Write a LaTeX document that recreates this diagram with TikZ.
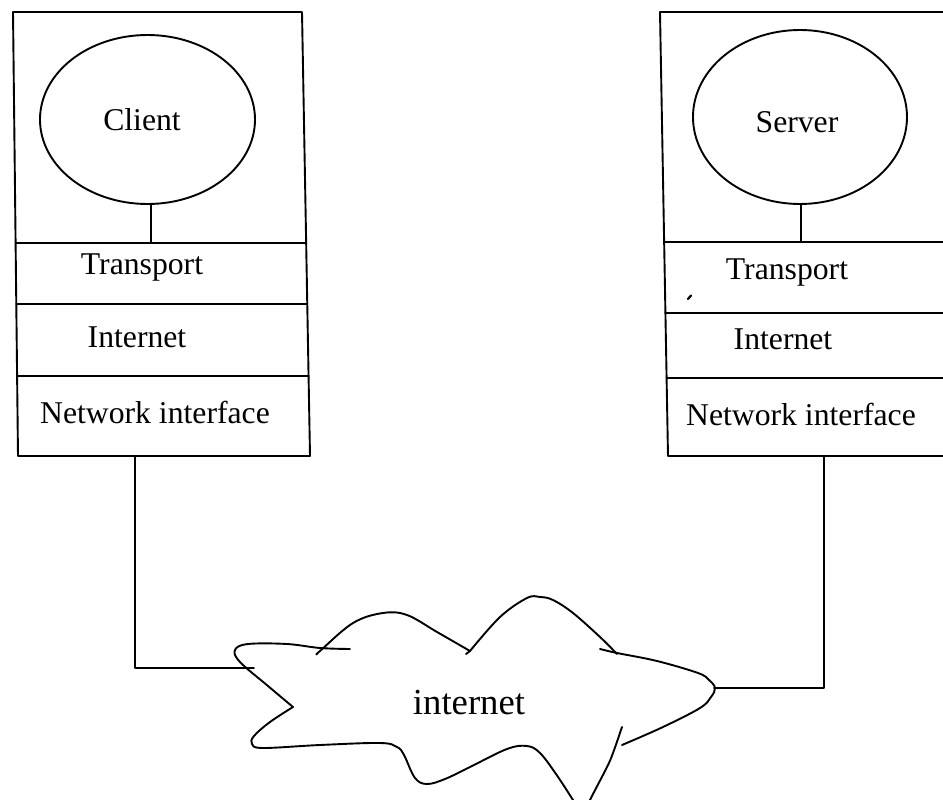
\documentclass[tikz,border=0pt]{standalone}
\usepackage{fontspec}
\setmainfont{Liberation Serif}
\usetikzlibrary{shapes.geometric}
\begin{document}
\begin{tikzpicture}[x=1pt,y=-1pt,
  line width=1.9pt, line join=round, line cap=round,
  lbl/.style={anchor=base, inner sep=0pt, font=\fontsize{31.7}{38}\selectfont},
  app/.style={draw, ellipse, inner sep=0pt, line width=1.9pt},
  stroke/.style={line width=1.9pt},
  cloudseg/.style={smooth, tension=0.6}]
\useasboundingbox (0,0) rectangle (943,800);
\clip (0,0) rectangle (943,800);

% ---------- client host ----------
\coordinate (lTL) at (13,12);
\coordinate (lTR) at (302,12);
\coordinate (lBR) at (310,456);
\coordinate (lBL) at (18,456);
\draw[stroke] (lTL) -- (lTR) -- (lBR) -- (lBL) -- cycle;
\draw[stroke] (15.6,243) -- (306.2,243);
\draw[stroke] (16.3,304) -- (307.3,304);
\draw[stroke] (17.1,376) -- (308.6,376);

\node[app, minimum width=215pt, minimum height=169pt] (cliE) at (147.5,119.5) {};
\node[lbl] (cliN) at (142,131) {Client};
\coordinate (cliT) at (151,243);
\draw[stroke] (cliE.south -| cliT) -- (cliT);
\node[lbl] (cliTr) at (142,274) {Transport};
\node[lbl] (cliIn) at (137,347) {Internet};
\node[lbl] (cliNi) at (155,423) {Network interface};

% ---------- server host ----------
\coordinate (rTL) at (660,12);
\coordinate (rTR) at (960,12);
\coordinate (rBL) at (668,456);
\coordinate (rBR) at (960,456);
\draw[stroke] (rTR) -- (rTL) -- (rBL) -- (rBR);
\draw[stroke] (664.1,242) -- (960,242);
\draw[stroke] (665.4,313) -- (960,313);
\draw[stroke] (666.6,378) -- (960,378);

\node[app, minimum width=214pt, minimum height=174pt] (srvE) at (800,117) {};
\node[lbl] (srvN) at (797,132) {Server};
\coordinate (srvT) at (801,242);
\draw[stroke] (srvE.south -| srvT) -- (srvT);
\node[lbl] (srvTr) at (787,279) {Transport};
\node[lbl] (srvIn) at (783,349) {Internet};
\node[lbl] (srvNi) at (801,425) {Network interface};
\draw[line width=2.2pt] (688,299) -- (691,295.5);

% ---------- connectors ----------
\coordinate (lDrop) at (135,456);
\coordinate (lCorner) at (135,668);
\coordinate (lCloud) at (254,668);
\draw[stroke] (lDrop) -- (lCorner) -- (lCloud);
\coordinate (rDrop) at (824,456);
\coordinate (rCorner) at (824,688);
\coordinate (rCloud) at (714,688);
\draw[stroke] (rDrop) -- (rCorner) -- (rCloud);

% ---------- cloud ----------
\draw[stroke] plot[cloudseg] coordinates {(350,649) (320,648) (287,644) (248,644) (235,650) (240,662) (268,686) (293,707)};
\draw[stroke] plot[cloudseg] coordinates {(293,707) (270,722) (254,736) (252,744) (263,748) (320,745) (380,743) (397,747) (404,755) (415,778) (427,784) (445,779) (470,767) (507,749) (527,746) (540,753) (556,774) (573,800) (582,815)};
\draw[stroke] plot[cloudseg] coordinates {(622,727) (613,753) (607,767) (590,800) (585,812)};
\draw[stroke] plot[cloudseg] coordinates {(622,745) (663,727) (700,708) (711,697) (715,688) (709,680) (698,673) (657,661) (617,653) (600,649)};
\draw[stroke] plot[cloudseg] coordinates {(617,654) (600,637) (573,613) (553,600) (540,597) (527,598) (500,617) (470,651)};
\draw[stroke] (470,651) -- (466,654);
\draw[stroke] plot[cloudseg] coordinates {(470,651) (437,632) (407,615) (383,613) (353,623) (320,651) (317,654)};

\node[lbl, font=\fontsize{36.7}{44}\selectfont] (cloudN) at (469,714) {internet};
\end{tikzpicture}
\end{document}
